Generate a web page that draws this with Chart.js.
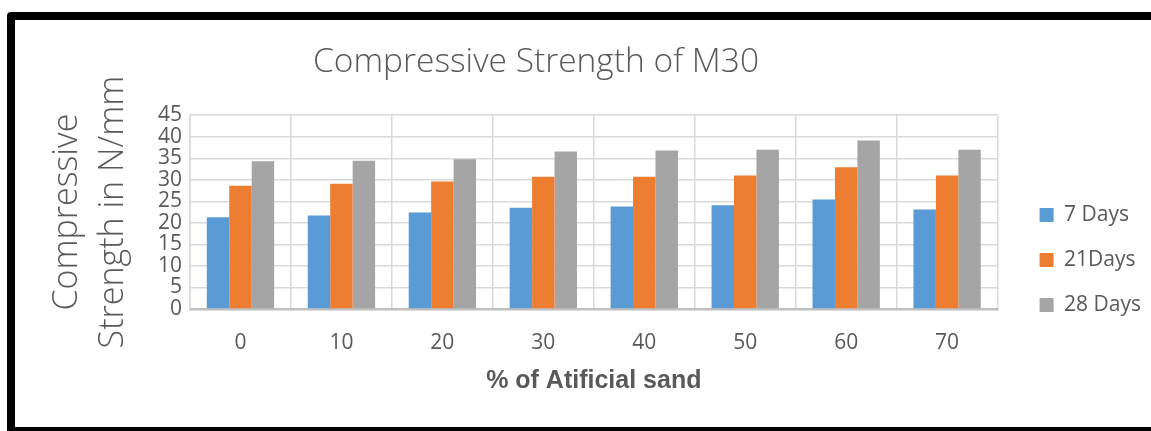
<!DOCTYPE html>
<html>
<head>
<meta charset="utf-8">
<script src="https://cdn.jsdelivr.net/npm/chart.js@4"></script>
<style>
  html, body {
    margin: 0;
    width: 1151px;
    height: 431px;
    overflow: hidden;
    background: #ffffff;
  }

  #frame {
    position: absolute;
    left: 7px;
    top: 12px;
    width: 1200px;
    height: 407px;
    border: 8px solid #000000;
    border-radius: 4px;
  }

  #wrap {
    position: absolute;
    left: -79px;
    top: 0;
  }
</style>
</head>
<body>

<div id="frame"></div>
<div id="wrap">
  <canvas id="strengthChart" width="1232" height="520"></canvas>
</div>

<script>
/* =====================================================
   DATA
===================================================== */

const sandPercent = ["0","10","20","30","40","50","60","70"];

const days7  = [21.3, 21.7, 22.4, 23.5, 23.8, 24.1, 25.4, 23.1];
const days21 = [28.6, 29.1, 29.6, 30.7, 30.7, 31.0, 32.9, 31.0];
const days28 = [34.3, 34.4, 34.8, 36.6, 36.8, 37.0, 39.1, 37.0];

const seriesNames = ["7 Days", "21Days", "28 Days"];

const yTicks = [0,5,10,15,20,25,30,35,40,45];


/* =====================================================
   CHART
===================================================== */

const textGrey = "#595959";
const gridGrey = "#d9d9d9";

const ctx =
  document.getElementById("strengthChart")
  .getContext("2d");

new Chart(ctx, {

  type: "bar",

  data: {
    labels: sandPercent,
    datasets: [
      {
        label: seriesNames[0],
        data: days7,
        backgroundColor: "#5b9bd5"
      },
      {
        label: seriesNames[1],
        data: days21,
        backgroundColor: "#ed7d31"
      },
      {
        label: seriesNames[2],
        data: days28,
        backgroundColor: "#a5a5a5"
      }
    ]
  },

  options: {

    responsive: false,
    animation: false,

    layout: {
      padding: { left: 0, right: 2, top: 0, bottom: 0 }
    },

    datasets: {
      bar: {
        categoryPercentage: 0.667,
        barPercentage: 1,
        borderWidth: 0
      }
    },

    plugins: {

      title: {
        display: true,
        text: "Compressive Strength of M30",
        color: textGrey,
        font: { family: "'Open Sans'", size: 33.5, weight: "300", lineHeight: 1.2 },
        padding: { top: 42, bottom: 33 }
      },

      legend: {
        position: "right",
        labels: {
          boxWidth: 14,
          boxHeight: 14,
          padding: 24,
          color: textGrey,
          font: { family: "'Open Sans'", size: 21 }
        }
      },

      tooltip: { enabled: false }

    },

    scales: {

      x: {
        grid: {
          offset: true,
          color: gridGrey,
          lineWidth: 1.5,
          drawTicks: false
        },
        border: {
          color: "#bfbfbf",
          width: 2.5
        },
        ticks: {
          color: textGrey,
          padding: 21,
          font: { family: "'Open Sans'", size: 21 }
        },
        title: {
          display: true,
          text: "% of Atificial sand",
          color: textGrey,
          font: { family: "'Liberation Sans'", size: 25, weight: "bold", lineHeight: 1.2 },
          padding: { top: 10, bottom: 124 }
        },
        afterFit(scale) {
          scale.height = 211;
        }
      },

      y: {
        min: 0,
        max: 45,
        afterBuildTicks(scale) {
          scale.ticks = yTicks.map(v => ({ value: v }));
        },
        grid: {
          color: gridGrey,
          lineWidth: 1.5,
          drawTicks: false
        },
        border: {
          color: gridGrey,
          width: 1.5
        },
        ticks: {
          color: textGrey,
          padding: 8,
          autoSkip: false,
          font: { family: "'Open Sans'", size: 21, lineHeight: 1 }
        },
        title: {
          display: true,
          text: ["Compressive", "Strength in N/mm"],
          color: textGrey,
          font: { family: "'Open Sans'", size: 34, weight: "300", lineHeight: 1.35 },
          padding: { top: 123, bottom: 0 }
        },
        afterFit(scale) {
          scale.width = 269;
        }
      },

      gap: {
        position: "right",
        display: true,
        grid: { display: false },
        border: { display: false },
        ticks: { display: false },
        afterFit(scale) {
          scale.width = 18;
        }
      }

    }

  }

});
</script>

</body>
</html>
